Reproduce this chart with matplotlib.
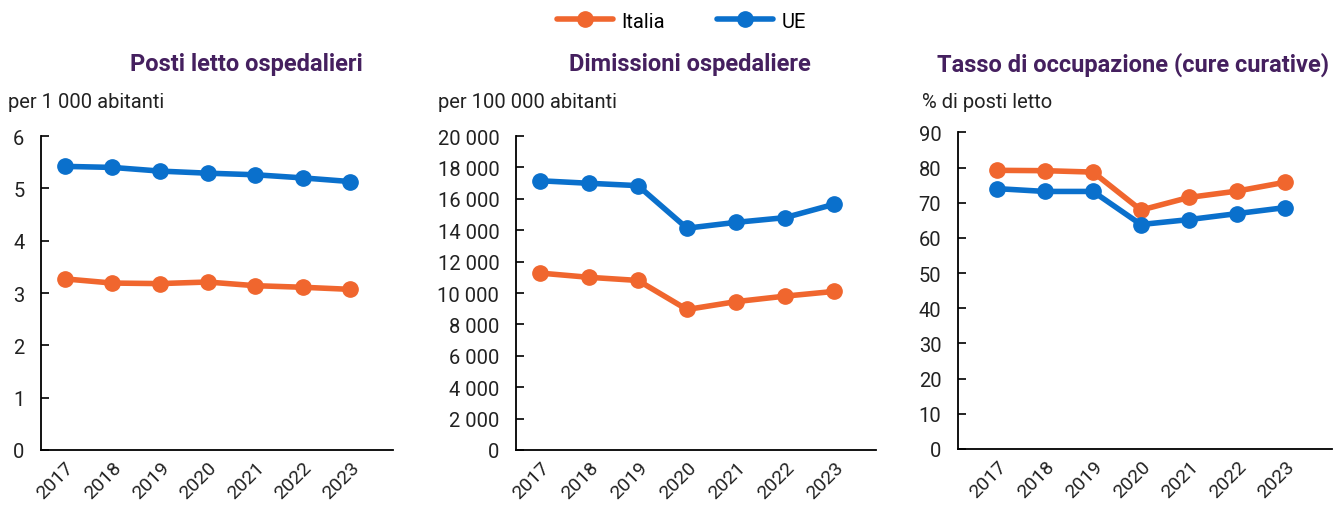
import numpy as np
import matplotlib
matplotlib.use("Agg")
import matplotlib.pyplot as plt

plt.rcParams['font.family'] = ['Roboto', 'DejaVu Sans']

years = ["2017", "2018", "2019", "2020", "2021", "2022", "2023"]

posti_italia = [3.27, 3.19, 3.18, 3.21, 3.14, 3.11, 3.07]
posti_ue = [5.42, 5.40, 5.33, 5.29, 5.26, 5.20, 5.13]

dimissioni_italia = [11270, 11000, 10800, 8950, 9450, 9800, 10100]
dimissioni_ue = [17150, 16990, 16840, 14130, 14500, 14800, 15650]

occupazione_italia = [79.2, 79.1, 78.7, 67.9, 71.5, 73.3, 75.8]
occupazione_ue = [74.0, 73.2, 73.2, 63.8, 65.2, 66.9, 68.6]

titles = ["Posti letto ospedalieri", "Dimissioni ospedaliere",
          "Tasso di occupazione (cure curative)"]
units = ["per 1 000 abitanti", "per 100 000 abitanti", "% di posti letto"]

c_it = "#F0662E"
c_ue = "#0A70CC"
c_title = "#45205F"


def fmt_thousands(v, pos):
    return f"{int(v):,}".replace(",", " ")


fig = plt.figure(figsize=(13.33, 5.06), dpi=100)

axes_pos = [
    [0.0308, 0.1087, 0.264, 0.6205],
    [0.3871, 0.1087, 0.2701, 0.6205],
    [0.7187, 0.1107, 0.2806, 0.6258],
]
xlims = [(-0.5, 6.9), (-0.49, 6.86), (-0.81, 6.98)]
data = [
    (posti_italia, posti_ue, (0, 6), np.arange(0, 7, 1)),
    (dimissioni_italia, dimissioni_ue, (0, 20000), np.arange(0, 20001, 2000)),
    (occupazione_italia, occupazione_ue, (0, 90), np.arange(0, 91, 10)),
]
title_x = [0.1845, 0.5175, 0.8500]
unit_x = [8 / 1333, 438 / 1333, 922 / 1333]

x = np.arange(len(years))
for i in range(3):
    ax = fig.add_axes(axes_pos[i])
    it, ue, ylim, yt = data[i]
    l1, = ax.plot(x, it, color=c_it, lw=4, marker='o', ms=11, label="Italia",
                  solid_capstyle='round')
    l2, = ax.plot(x, ue, color=c_ue, lw=4, marker='o', ms=11, label="UE",
                  solid_capstyle='round')
    ax.set_xlim(*xlims[i])
    ax.set_ylim(*ylim)
    ax.set_yticks(yt)
    if i == 1:
        ax.yaxis.set_major_formatter(plt.FuncFormatter(fmt_thousands))
    ax.set_xticks(x)
    ax.set_xticklabels(years, rotation=45, ha='right', rotation_mode='anchor')
    ax.tick_params(axis='x', length=0, pad=6, labelsize=14,
                   labelcolor="#222222")
    ax.tick_params(axis='y', direction='in', length=6, width=1.2,
                   labelsize=14.5, pad=12, labelcolor="#222222")
    for s in ['top', 'right']:
        ax.spines[s].set_visible(False)
    for s in ['left', 'bottom']:
        ax.spines[s].set_linewidth(1.3)
    fig.text(title_x[i], 1 - 65 / 506, titles[i], ha='center', va='center',
             fontsize=17, fontweight='bold', color=c_title)
    fig.text(unit_x[i], 1 - 103 / 506, units[i], ha='left', va='center',
             fontsize=14.5, color="#222222")

fig.legend([l1, l2], ["Italia", "UE"], loc='center', ncol=2,
           bbox_to_anchor=(0.511, 1 - 22 / 506), frameon=False, fontsize=14.5,
           handlelength=2.8, columnspacing=2.6, handletextpad=0.4)

fig.savefig("out.png", dpi=100)
